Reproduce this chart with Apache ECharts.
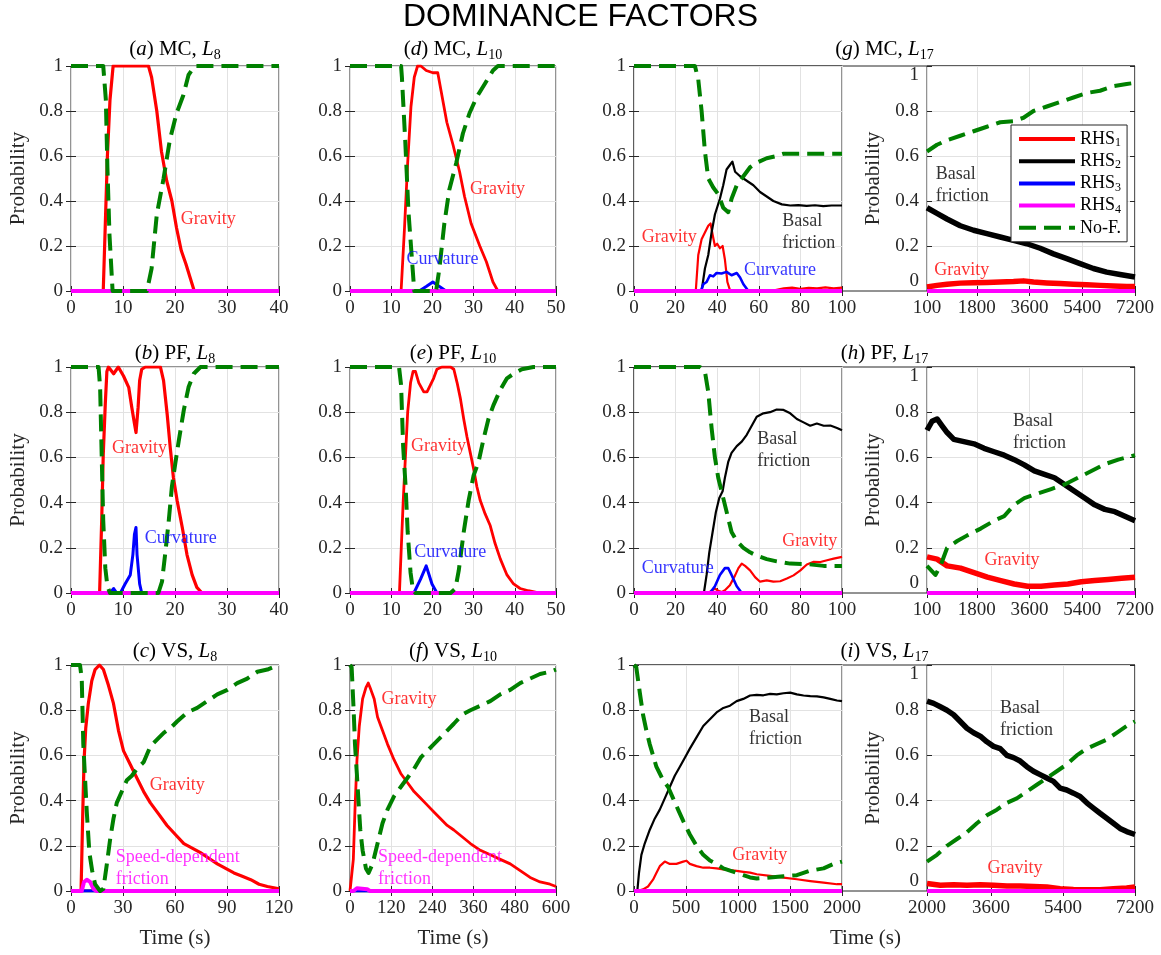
<!DOCTYPE html>
<html>
<head>
<meta charset="utf-8">
<script src="https://cdn.jsdelivr.net/npm/echarts@6/dist/echarts.min.js"></script>
<style>
  html, body { margin: 0; padding: 0; background: #fff; }
  #chart { width: 1161px; height: 955px; }
</style>
</head>
<body>
<div id="chart"></div>
<script>
// ---------------- data ----------------
const seriesNames = ['RHS1', 'RHS2', 'RHS3', 'RHS4', 'No-F.'];

// (a) MC, L8
const a_gravity = [[0,0],[6.2,0],[6.6,0.3],[7.0,0.6],[7.5,0.85],[8.1,1],[14.9,1],[15.5,0.95],[16.5,0.8],[17.4,0.62],[18.4,0.49],[19.4,0.4],[20.3,0.28],[21.2,0.18],[22.1,0.12],[22.9,0.06],[23.7,0],[40,0]];
const a_nof = [[0,1],[6.2,1],[6.7,0.85],[7.0,0.55],[7.4,0.25],[8.0,0],[14.6,0],[15.5,0.1],[16.5,0.34],[17.8,0.5],[19.0,0.67],[20.3,0.79],[21.6,0.87],[22.6,0.96],[23.8,1],[40,1]];
const a_zero = [[0,0],[40,0]];

// (d) MC, L10
const d_gravity = [[0,0],[12.4,0],[13.2,0.27],[14.0,0.57],[14.8,0.82],[15.6,0.95],[16.4,1],[17.2,1],[18.5,0.98],[20.1,0.97],[21.3,0.97],[22.1,0.89],[23.5,0.75],[25.0,0.65],[26.6,0.53],[27.8,0.42],[29.4,0.3],[31.5,0.2],[33.1,0.13],[34.7,0.04],[35.9,0],[50,0]];
const d_curv = [[0,0],[16.8,0],[18.5,0.02],[20.1,0.04],[21.7,0.02],[23.3,0],[50,0]];
const d_nof = [[0,1],[12.4,1],[12.6,0.95],[13.4,0.67],[14.2,0.35],[15.0,0.15],[15.6,0],[20.9,0],[21.7,0.1],[22.9,0.3],[24.1,0.45],[25.8,0.57],[27.4,0.7],[29.0,0.79],[30.7,0.86],[32.7,0.92],[34.7,0.98],[35.9,1],[50,1]];
const d_zero = [[0,0],[50,0]];

// (g) MC, L17, 0-100 s
const gL_gravity = [[0,0],[29.7,0],[30.9,0.16],[32.5,0.23],[34.1,0.26],[35.7,0.29],[36.8,0.3],[37.8,0.25],[38.9,0.2],[40.0,0.21],[41.3,0.19],[42.6,0.2],[43.7,0.14],[44.9,0.04],[46.1,0.005],[50,0],[60,0.003],[68,0.004],[72,0.012],[76,0.015],[80,0.01],[84,0.014],[88,0.012],[92,0.016],[96,0.012],[100,0.015]];
const gL_basal = [[0,0],[32.5,0],[34.1,0.1],[35.7,0.16],[37.3,0.26],[38.9,0.34],[41.3,0.41],[42.9,0.47],[44.5,0.54],[46.1,0.56],[47.3,0.575],[48.6,0.53],[51.0,0.51],[54.2,0.49],[57.4,0.47],[60.6,0.44],[63.8,0.42],[67.0,0.4],[71.1,0.385],[75.1,0.38],[79,0.382],[83,0.378],[87,0.381],[91,0.377],[95,0.38],[100,0.38]];
const gL_curv = [[0,0],[32.2,0],[33.3,0.03],[34.9,0.04],[36.5,0.07],[38.1,0.065],[39.7,0.08],[42.1,0.078],[44.5,0.085],[46.9,0.07],[49.4,0.08],[51.0,0.06],[52.6,0.03],[55.0,0],[100,0]];
const gL_nof = [[0,1],[29.3,1],[30.9,0.94],[32.5,0.8],[34.1,0.62],[35.7,0.5],[38.1,0.46],[40.5,0.43],[42.9,0.37],[45.3,0.35],[46.9,0.41],[49.4,0.47],[52.6,0.51],[55.8,0.55],[59.0,0.57],[63.8,0.59],[68.6,0.6],[71.9,0.61],[100,0.61]];
const gL_zero = [[0,0],[100,0]];

// (g) MC, L17, 100-7200 s
const gR_gravity = [[100,0.018],[441,0.025],[782,0.03],[1236,0.035],[1690,0.037],[2145,0.038],[2599,0.04],[3054,0.042],[3394,0.045],[3735,0.04],[4190,0.036],[4644,0.033],[5098,0.03],[5553,0.028],[6007,0.025],[6462,0.022],[6916,0.02],[7200,0.02]];
const gR_basal = [[100,0.37],[441,0.345],[782,0.32],[1236,0.29],[1690,0.27],[2145,0.255],[2599,0.24],[3054,0.225],[3508,0.21],[3962,0.19],[4417,0.165],[4871,0.144],[5326,0.122],[5780,0.1],[6234,0.084],[6689,0.073],[7200,0.062]];
const gR_nof = [[100,0.62],[441,0.65],[782,0.67],[1236,0.69],[1690,0.71],[2145,0.73],[2599,0.75],[3054,0.755],[3394,0.77],[3735,0.8],[4190,0.82],[4644,0.84],[5098,0.86],[5553,0.88],[6007,0.89],[6462,0.91],[6916,0.92],[7200,0.925]];
const gR_zero = [[100,0],[7200,0]];

// (b) PF, L8
const b_gravity = [[0,0],[5.5,0],[5.9,0.32],[6.2,0.61],[6.6,0.84],[6.9,0.98],[7.2,1],[8.2,0.97],[9.1,1],[10.1,0.96],[11.1,0.91],[11.7,0.82],[12.2,0.75],[12.5,0.71],[12.9,0.82],[13.2,0.94],[13.6,0.99],[14.3,1],[17.2,1],[17.8,0.94],[18.5,0.79],[19.1,0.64],[19.7,0.51],[20.4,0.41],[21.4,0.29],[22.3,0.17],[23.3,0.08],[24.2,0.025],[25.2,0],[40,0]];
const b_curv = [[0,0],[7.5,0],[8.2,0.02],[8.8,0],[9.5,0],[10.4,0.04],[11.4,0.08],[11.9,0.17],[12.2,0.26],[12.5,0.29],[12.7,0.17],[13.2,0.04],[13.6,0],[40,0]];
const b_nof = [[0,1],[5.3,1],[5.6,0.91],[5.9,0.61],[6.2,0.32],[6.6,0.11],[7.0,0.03],[7.5,0],[16.8,0],[17.5,0.05],[18.1,0.17],[18.8,0.32],[19.4,0.47],[20.1,0.58],[20.7,0.67],[21.7,0.81],[22.6,0.91],[23.6,0.97],[24.9,1],[40,1]];
const b_zero = [[0,0],[40,0]];

// (e) PF, L10
const e_gravity = [[0,0],[12.0,0],[12.4,0.18],[12.9,0.4],[13.5,0.62],[14.0,0.8],[14.7,0.93],[15.3,0.98],[15.9,0.98],[16.7,0.93],[17.9,0.89],[18.7,0.89],[19.5,0.92],[20.3,0.95],[21.1,0.99],[22.3,1],[24.4,1],[25.2,0.99],[26.0,0.93],[26.8,0.86],[27.6,0.77],[28.4,0.69],[29.2,0.62],[30.0,0.55],[30.8,0.47],[31.6,0.41],[32.8,0.35],[34.0,0.3],[35.2,0.22],[36.5,0.15],[38.1,0.08],[39.7,0.04],[41.3,0.02],[43.3,0.01],[46.1,0],[50,0]];
const e_curv = [[0,0],[15.5,0],[17.1,0.06],[18.5,0.12],[19.9,0.04],[21.1,0],[50,0]];
const e_nof = [[0,1],[11.9,1],[12.4,0.92],[12.9,0.65],[13.5,0.47],[14.0,0.27],[14.7,0.09],[15.3,0.01],[15.9,0],[24.4,0],[25.6,0.02],[26.4,0.1],[27.6,0.27],[28.8,0.41],[30.0,0.52],[31.2,0.58],[32.4,0.68],[33.6,0.77],[34.8,0.83],[36.5,0.9],[38.1,0.95],[39.7,0.97],[41.7,0.99],[44.5,1],[50,1]];
const e_zero = [[0,0],[50,0]];

// (h) PF, L17, 0-100 s
const hL_gravity = [[0,0],[35.7,0],[37.3,0.01],[38.9,0.02],[40.5,0.01],[42.1,0.004],[43.7,0.012],[46.1,0.034],[48.6,0.078],[50.2,0.11],[51.8,0.13],[53.4,0.12],[55.8,0.1],[58.2,0.07],[60.6,0.05],[63.8,0.056],[67.0,0.05],[70.3,0.052],[73.5,0.064],[76.7,0.078],[80.0,0.1],[83.1,0.126],[86.4,0.138],[89.6,0.137],[92.8,0.145],[96.0,0.152],[100,0.16]];
const hL_basal = [[0,0],[33.6,0],[34.9,0.08],[36.2,0.18],[37.8,0.27],[39.4,0.36],[41.0,0.42],[42.6,0.45],[43.7,0.51],[45.3,0.58],[46.9,0.62],[49.4,0.65],[51.8,0.67],[54.2,0.7],[56.6,0.74],[59.0,0.78],[62.2,0.795],[65.4,0.8],[68.6,0.812],[71.9,0.81],[75.1,0.795],[78.3,0.77],[81.5,0.755],[84.7,0.74],[87.9,0.75],[91.2,0.74],[94.4,0.741],[97.6,0.73],[100,0.72]];
const hL_curv = [[0,0],[36.5,0],[38.9,0.03],[41.3,0.08],[43.7,0.11],[45.3,0.11],[46.9,0.08],[49.4,0.03],[51.8,0],[100,0]];
const hL_nof = [[0,1],[31.7,1],[34.1,0.98],[35.7,0.89],[37.3,0.73],[38.9,0.6],[40.5,0.51],[42.1,0.45],[44.5,0.36],[46.9,0.27],[49.4,0.23],[52.6,0.2],[55.8,0.18],[59.0,0.165],[63.8,0.15],[68.6,0.14],[75.1,0.13],[83.1,0.128],[91.2,0.12],[100,0.12]];
const hL_zero = [[0,0],[100,0]];

// (h) PF, L17, 100-7200 s
const hR_gravity = [[100,0.16],[444,0.15],[787,0.12],[1245,0.11],[1703,0.09],[2161,0.07],[2619,0.055],[3077,0.04],[3535,0.03],[3993,0.03],[4451,0.035],[4909,0.04],[5367,0.05],[5825,0.055],[6283,0.06],[6741,0.065],[7200,0.07]];
const hR_basal = [[100,0.72],[272,0.76],[444,0.77],[615,0.74],[787,0.71],[1016,0.68],[1360,0.67],[1703,0.66],[2047,0.64],[2390,0.625],[2734,0.61],[3077,0.59],[3421,0.567],[3764,0.54],[4108,0.525],[4451,0.51],[4795,0.48],[5138,0.45],[5482,0.42],[5825,0.39],[6169,0.37],[6512,0.36],[6856,0.34],[7200,0.32]];
const hR_nof = [[100,0.12],[387,0.08],[559,0.12],[788,0.2],[1131,0.23],[1475,0.255],[1933,0.285],[2392,0.32],[2735,0.34],[3079,0.39],[3422,0.42],[3880,0.44],[4338,0.46],[4796,0.48],[5254,0.51],[5712,0.54],[6170,0.57],[6628,0.59],[7200,0.61]];
const hR_zero = [[100,0],[7200,0]];

// (c) VS, L8
const c_gravity = [[0,0],[5.8,0],[6.8,0.35],[7.5,0.57],[8.5,0.72],[10.0,0.83],[12.0,0.93],[13.9,0.98],[16.4,1],[18.7,0.98],[21.6,0.91],[24.5,0.83],[27.4,0.71],[30.3,0.62],[34.2,0.56],[38.0,0.5],[41.9,0.44],[45.8,0.39],[50.6,0.34],[55.4,0.29],[60.2,0.25],[65.1,0.21],[69.9,0.19],[74.7,0.17],[79.5,0.145],[84.4,0.12],[89.2,0.1],[94.0,0.08],[98.8,0.065],[103.7,0.05],[108.5,0.03],[113.3,0.02],[120,0.01]];
const c_speed = [[0,0],[6.2,0],[7.5,0.04],[9.1,0.05],[11.0,0.04],[12.9,0.01],[14.8,0],[120,0]];
const c_nof = [[0,1],[5.2,1],[6.2,0.94],[7.1,0.65],[8.1,0.5],[9.1,0.35],[10.6,0.17],[12.2,0.09],[13.9,0.03],[16.8,0],[18.7,0.01],[20.7,0.12],[22.6,0.23],[24.5,0.32],[26.4,0.39],[29.3,0.44],[32.2,0.49],[35.1,0.51],[38.0,0.54],[41.9,0.57],[45.8,0.64],[49.6,0.67],[53.5,0.7],[57.3,0.72],[61.2,0.75],[67.0,0.79],[72.8,0.81],[78.6,0.84],[84.4,0.87],[90.2,0.89],[95.9,0.92],[101.7,0.94],[107.5,0.97],[113.3,0.98],[120,1]];
const c_zero = [[0,0],[120,0]];

// (f) VS, L10
const f_gravity = [[0,0],[4.8,0],[9.7,0.14],[14.5,0.36],[20.3,0.58],[27.1,0.73],[36.7,0.85],[46.4,0.9],[53.1,0.92],[60.9,0.89],[70.5,0.85],[80.2,0.77],[94.7,0.71],[109.2,0.65],[128.5,0.58],[147.8,0.52],[167.1,0.48],[186.5,0.44],[205.8,0.41],[225.1,0.38],[244.4,0.35],[263.8,0.32],[283.1,0.29],[302.4,0.27],[326.6,0.24],[350.7,0.21],[379.7,0.18],[408.7,0.16],[437.7,0.14],[466.7,0.12],[495.7,0.09],[524.6,0.06],[553.6,0.04],[582.6,0.03],[600,0.02]];
const f_speed = [[0,0],[10,0],[20,0.012],[35,0.01],[50,0.008],[58,0],[600,0]];
const f_nof = [[0,1],[4.8,0.99],[10.6,0.8],[14.5,0.65],[20.3,0.51],[25.1,0.39],[30,0.27],[36.7,0.18],[46.4,0.1],[54.1,0.08],[65.7,0.12],[80.2,0.21],[94.7,0.3],[109.2,0.36],[128.5,0.42],[147.8,0.46],[167.1,0.5],[186.5,0.54],[205.8,0.59],[225.1,0.62],[244.4,0.65],[263.8,0.68],[283.1,0.71],[302.4,0.74],[326.6,0.78],[350.7,0.8],[379.7,0.82],[408.7,0.84],[437.7,0.87],[466.7,0.89],[495.7,0.92],[524.6,0.94],[553.6,0.96],[582.6,0.97],[600,0.98]];
const f_zero = [[0,0],[600,0]];

// (i) VS, L17, 0-2000 s
const iL_gravity = [[0,0],[32,0],[87,0.007],[135,0.02],[183,0.05],[215,0.08],[248,0.11],[296,0.13],[344,0.12],[408,0.12],[473,0.13],[505,0.134],[537,0.12],[601,0.11],[666,0.103],[730,0.103],[794,0.1],[859,0.096],[923,0.093],[987,0.089],[1051,0.085],[1116,0.081],[1180,0.074],[1309,0.067],[1437,0.059],[1566,0.052],[1695,0.044],[1823,0.037],[1952,0.03],[2000,0.03]];
const iL_basal = [[0,0],[32,0],[48,0.08],[71,0.16],[103,0.21],[151,0.27],[199,0.32],[248,0.36],[296,0.41],[344,0.46],[392,0.51],[441,0.55],[489,0.59],[537,0.63],[601,0.68],[666,0.73],[730,0.76],[794,0.79],[859,0.81],[923,0.82],[987,0.84],[1051,0.85],[1116,0.865],[1180,0.868],[1244,0.866],[1309,0.872],[1373,0.87],[1437,0.875],[1502,0.878],[1566,0.87],[1630,0.865],[1695,0.862],[1759,0.861],[1823,0.857],[1887,0.85],[1952,0.843],[2000,0.84]];
const iL_nof = [[0,1],[22,0.99],[55,0.88],[87,0.78],[119,0.71],[151,0.65],[183,0.6],[215,0.55],[248,0.52],[280,0.49],[328,0.46],[376,0.41],[424,0.36],[473,0.31],[537,0.25],[601,0.2],[666,0.16],[730,0.135],[794,0.12],[859,0.1],[923,0.09],[987,0.08],[1051,0.07],[1116,0.06],[1180,0.055],[1309,0.06],[1437,0.065],[1566,0.07],[1695,0.09],[1823,0.1],[1920,0.12],[2000,0.13]];
const iL_zero = [[0,0],[2000,0]];

// (i) VS, L17, 2000-7200 s
const iR_gravity = [[2000,0.033],[2333,0.025],[2666,0.028],[2998,0.025],[3331,0.028],[3664,0.025],[3997,0.022],[4330,0.022],[4662,0.02],[4995,0.018],[5328,0.01],[5661,0.007],[5994,0.006],[6326,0.006],[6659,0.01],[6992,0.013],[7200,0.018]];
const iR_basal = [[2000,0.84],[2166,0.83],[2333,0.815],[2499,0.8],[2666,0.78],[2832,0.75],[2998,0.72],[3165,0.7],[3331,0.685],[3498,0.66],[3664,0.64],[3830,0.63],[3997,0.6],[4163,0.59],[4330,0.575],[4496,0.55],[4662,0.53],[4829,0.515],[4995,0.5],[5162,0.485],[5328,0.455],[5494,0.447],[5661,0.433],[5827,0.418],[5994,0.39],[6160,0.367],[6326,0.344],[6493,0.322],[6659,0.3],[6826,0.277],[6992,0.263],[7200,0.25]];
const iR_nof = [[2000,0.13],[2250,0.16],[2499,0.2],[2749,0.23],[2998,0.26],[3248,0.3],[3498,0.335],[3747,0.36],[3997,0.39],[4246,0.41],[4496,0.44],[4746,0.47],[4995,0.5],[5245,0.53],[5494,0.56],[5744,0.6],[5994,0.63],[6243,0.65],[6493,0.67],[6742,0.7],[6992,0.73],[7200,0.75]];
const iR_zero = [[2000,0],[7200,0]];

// tick values for the long-time axes
const ticksLongMCPF = [100, 1800, 3600, 5400, 7200];
const ticksLongVS = [2000, 3600, 5400, 7200];

// in-plot annotations: [x, y, text, series]
const notes_a = [[21, 0.32, 'Gravity', 'RHS1']];
const notes_d = [[29, 0.45, 'Gravity', 'RHS1'], [13.6, 0.14, 'Curvature', 'RHS3']];
const notes_gL = [[3.5, 0.24, 'Gravity', 'RHS1'], [71, 0.26, 'Basal\nfriction', 'RHS2'], [52.6, 0.09, 'Curvature', 'RHS3']];
const notes_gR = [[384, 0.47, 'Basal\nfriction', 'RHS2'], [327, 0.09, 'Gravity', 'RHS1']];
const notes_b = [[7.8, 0.64, 'Gravity', 'RHS1'], [14.1, 0.24, 'Curvature', 'RHS3']];
const notes_e = [[14.7, 0.65, 'Gravity', 'RHS1'], [15.5, 0.18, 'Curvature', 'RHS3']];
const notes_hL = [[59, 0.63, 'Basal\nfriction', 'RHS2'], [71, 0.23, 'Gravity', 'RHS1'], [3.5, 0.11, 'Curvature', 'RHS3']];
const notes_hR = [[3020, 0.71, 'Basal\nfriction', 'RHS2'], [2047, 0.144, 'Gravity', 'RHS1']];
const notes_c = [[45.2, 0.47, 'Gravity', 'RHS1'], [25.5, 0.10, 'Speed-dependent\nfriction', 'RHS4']];
const notes_f = [[90, 0.85, 'Gravity', 'RHS1'], [80, 0.10, 'Speed-dependent\nfriction', 'RHS4']];
const notes_iL = [[1100, 0.72, 'Basal\nfriction', 'RHS2'], [940, 0.16, 'Gravity', 'RHS1']];
const notes_iR = [[3814, 0.76, 'Basal\nfriction', 'RHS2'], [3498, 0.10, 'Gravity', 'RHS1']];

// ---------------- styling / layout ----------------
const FONT = 'Liberation Serif';
const AXIS_COLOR = '#262626';
const GRID_COLOR = '#e2e2e2';
const COLORS = { RHS1: '#ff0000', RHS2: '#000000', RHS3: '#0000ff', RHS4: '#ff00ff', 'No-F.': '#008000' };
const DASH = [17, 8];

const cols = [
  { left: 71, width: 208 },
  { left: 350, width: 206 },
  { left: 634, width: 208 },
  { left: 927, width: 208 }
];
const rows = [
  { top: 66, height: 225, titleTop: 36 },
  { top: 367, height: 226, titleTop: 340 },
  { top: 665, height: 226, titleTop: 638 }
];
// line widths per column: red, black, blue, magenta, green
const widths = [
  [3.2, 3, 3, 4, 4],
  [2.8, 2.8, 3, 4, 4],
  [2.2, 2.2, 2.6, 4, 4],
  [5.5, 5.5, 3, 4, 4]
];

const panels = [
  { row: 0, col: 0, x: { min: 0, max: 40, interval: 10 }, yName: true, lines: [a_gravity, a_zero, a_zero, a_zero, a_nof], notes: notes_a },
  { row: 0, col: 1, x: { min: 0, max: 50, interval: 10 }, lines: [d_gravity, d_zero, d_curv, d_zero, d_nof], notes: notes_d },
  { row: 0, col: 2, x: { min: 0, max: 100, interval: 20 }, lines: [gL_gravity, gL_basal, gL_curv, gL_zero, gL_nof], notes: notes_gL },
  { row: 0, col: 3, x: { min: 100, max: 7200, ticks: ticksLongMCPF }, yName: true, right: true, lines: [gR_gravity, gR_basal, gR_zero, gR_zero, gR_nof], notes: notes_gR },
  { row: 1, col: 0, x: { min: 0, max: 40, interval: 10 }, yName: true, lines: [b_gravity, b_zero, b_curv, b_zero, b_nof], notes: notes_b },
  { row: 1, col: 1, x: { min: 0, max: 50, interval: 10 }, lines: [e_gravity, e_zero, e_curv, e_zero, e_nof], notes: notes_e },
  { row: 1, col: 2, x: { min: 0, max: 100, interval: 20 }, lines: [hL_gravity, hL_basal, hL_curv, hL_zero, hL_nof], notes: notes_hL },
  { row: 1, col: 3, x: { min: 100, max: 7200, ticks: ticksLongMCPF }, yName: true, right: true, lines: [hR_gravity, hR_basal, hR_zero, hR_zero, hR_nof], notes: notes_hR },
  { row: 2, col: 0, x: { min: 0, max: 120, interval: 30 }, yName: true, xName: true, lines: [c_gravity, c_zero, c_zero, c_speed, c_nof], notes: notes_c },
  { row: 2, col: 1, x: { min: 0, max: 600, interval: 120 }, xName: true, lines: [f_gravity, f_zero, f_zero, f_speed, f_nof], notes: notes_f },
  { row: 2, col: 2, x: { min: 0, max: 2000, interval: 500 }, lines: [iL_gravity, iL_basal, iL_zero, iL_zero, iL_nof], notes: notes_iL },
  { row: 2, col: 3, x: { min: 2000, max: 7200, ticks: ticksLongVS }, yName: true, right: true, lines: [iR_gravity, iR_basal, iR_zero, iR_zero, iR_nof], notes: notes_iR }
];

const titles = [
  { row: 0, cols: [0], text: '({it|a}) MC, {it|L}{sub|8}' },
  { row: 0, cols: [1], text: '({it|d}) MC, {it|L}{sub|10}' },
  { row: 0, cols: [2, 3], text: '({it|g}) MC, {it|L}{sub|17}' },
  { row: 1, cols: [0], text: '({it|b}) PF, {it|L}{sub|8}' },
  { row: 1, cols: [1], text: '({it|e}) PF, {it|L}{sub|10}' },
  { row: 1, cols: [2, 3], text: '({it|h}) PF, {it|L}{sub|17}' },
  { row: 2, cols: [0], text: '({it|c}) VS, {it|L}{sub|8}' },
  { row: 2, cols: [1], text: '({it|f}) VS, {it|L}{sub|10}' },
  { row: 2, cols: [2, 3], text: '({it|i}) VS, {it|L}{sub|17}' }
];

const labelText = { fontFamily: FONT, fontSize: 19, color: AXIS_COLOR };
const nameText = { fontFamily: FONT, fontSize: 21, color: AXIS_COLOR };
const plainNumber = v => String(v);

const option = {
  animation: false,
  backgroundColor: '#ffffff',
  title: [{
    text: 'DOMINANCE FACTORS',
    left: 'center', top: 1, padding: 0,
    textStyle: { fontFamily: 'Liberation Sans', fontSize: 32, fontWeight: 'normal', color: '#000' }
  }],
  grid: [], xAxis: [], yAxis: [], series: [],
  legend: {
    orient: 'vertical', left: 1011, top: 125,
    data: seriesNames,
    itemWidth: 56, itemHeight: 18, itemGap: 2.2,
    padding: [4, 6, 4, 6],
    backgroundColor: '#ffffff', borderColor: AXIS_COLOR, borderWidth: 1, borderRadius: 0,
    selectedMode: false,
    itemStyle: { opacity: 0 },
    lineStyle: { width: 4 },
    formatter: n => n.indexOf('RHS') === 0 ? 'RHS{sub|' + n.slice(3) + '}' : n,
    textStyle: {
      fontFamily: FONT, fontSize: 18, color: '#000', lineHeight: 20,
      rich: { sub: { fontFamily: FONT, fontSize: 12, lineHeight: 12, verticalAlign: 'bottom', color: '#000' } }
    },
    z: 20
  }
};

// ---------------- titles ----------------
titles.forEach(t => {
  const c0 = cols[t.cols[0]], c1 = cols[t.cols[t.cols.length - 1]];
  const cx = (c0.left + c1.left + c1.width) / 2;
  option.title.push({
    text: t.text, left: cx, top: rows[t.row].titleTop, textAlign: 'center', padding: 0,
    textStyle: {
      fontFamily: FONT, fontSize: 21, fontWeight: 'normal', color: '#000', lineHeight: 26,
      rich: {
        it: { fontFamily: FONT, fontSize: 21, fontStyle: 'italic', lineHeight: 26, color: '#000' },
        sub: { fontFamily: FONT, fontSize: 14, lineHeight: 14, verticalAlign: 'bottom', color: '#000' }
      }
    }
  });
});

// ---------------- frames joining the split panels ----------------
rows.forEach((r, ri) => {
  const gi = option.grid.length;
  option.grid.push({
    left: cols[2].left, width: cols[3].left + cols[3].width - cols[2].left,
    top: r.top, height: r.height, show: true, borderColor: AXIS_COLOR, borderWidth: 1,
    backgroundColor: 'transparent', containLabel: false, outerBoundsMode: 'none'
  });
  option.xAxis.push({
    type: 'value', gridIndex: gi, min: 0, max: 1, show: true,
    axisLine: { show: false }, axisTick: { show: false }, axisLabel: { show: false }, splitLine: { show: false },
    name: ri === 2 ? 'Time (s)' : '', nameLocation: 'middle', nameGap: 37,
    nameTextStyle: Object.assign({ padding: [0, 38, 0, 0] }, nameText)
  });
  option.yAxis.push({ type: 'value', gridIndex: gi, min: 0, max: 1, show: false });
});

// ---------------- panels ----------------
panels.forEach(p => {
  const gi = option.grid.length;
  const c = cols[p.col], r = rows[p.row];
  option.grid.push({
    left: c.left, width: c.width, top: r.top, height: r.height,
    show: true, borderColor: AXIS_COLOR, borderWidth: 1, backgroundColor: 'transparent',
    containLabel: false, outerBoundsMode: 'none'
  });

  const tickBase = { show: true, inside: true, length: 5, lineStyle: { color: AXIS_COLOR, width: 1 } };
  const xCommon = { type: 'value', gridIndex: gi, min: p.x.min, max: p.x.max, axisLine: { show: false } };
  if (p.x.interval) xCommon.interval = p.x.interval;
  const xTick = Object.assign({}, tickBase, p.x.ticks ? { customValues: p.x.ticks } : {});

  const xi = option.xAxis.length;
  option.xAxis.push(Object.assign({}, xCommon, {
    position: 'bottom',
    axisTick: xTick,
    axisLabel: Object.assign({ show: true, margin: 8, hideOverlap: false, formatter: plainNumber }, labelText,
      p.x.ticks ? { customValues: p.x.ticks } : {}),
    splitLine: { show: true, lineStyle: { color: GRID_COLOR, width: 1 } },
    name: p.xName ? 'Time (s)' : '', nameLocation: 'middle', nameGap: 37, nameTextStyle: nameText
  }));
  option.xAxis.push(Object.assign({}, xCommon, {
    position: 'top', axisTick: xTick, axisLabel: { show: false }, splitLine: { show: false }
  }));

  const yCommon = { type: 'value', gridIndex: gi, min: 0, max: 1, interval: 0.2, axisLine: { show: false } };
  const yi = option.yAxis.length;
  const yLabel = Object.assign({ show: true, margin: 8 }, labelText);
  if (p.right) { yLabel.verticalAlignMinLabel = 'bottom'; yLabel.verticalAlignMaxLabel = 'top'; }
  option.yAxis.push(Object.assign({}, yCommon, {
    position: 'left', axisTick: tickBase, axisLabel: yLabel,
    splitLine: { show: true, lineStyle: { color: GRID_COLOR, width: 1 } },
    name: p.yName ? 'Probability' : '', nameLocation: 'middle', nameGap: p.right ? 43 : 42, nameTextStyle: nameText
  }));
  option.yAxis.push(Object.assign({}, yCommon, {
    position: 'right', axisTick: tickBase, axisLabel: { show: false }, splitLine: { show: false }
  }));

  seriesNames.forEach((name, k) => {
    const dashed = name === 'No-F.';
    option.series.push({
      type: 'line', name, data: p.lines[k], xAxisIndex: xi, yAxisIndex: yi,
      symbol: 'none', showSymbol: false, silent: true, clip: true,
      lineStyle: { color: COLORS[name], width: widths[p.col][k], type: dashed ? DASH : 'solid', cap: 'butt', join: 'round' },
      itemStyle: { color: COLORS[name] },
      z: 3 + k
    });
  });

  option.series.push({
    type: 'scatter', name: 'notes', xAxisIndex: xi, yAxisIndex: yi, silent: true,
    symbol: 'circle', symbolSize: 1, itemStyle: { color: 'rgba(0,0,0,0)' }, z: 12,
    data: p.notes.map(n => ({
      value: [n[0], n[1]],
      label: { formatter: n[2], color: COLORS[n[3]] }
    })),
    label: {
      show: true, position: 'right', distance: 0, align: 'left', verticalAlign: 'middle',
      fontFamily: FONT, fontSize: 18, lineHeight: 22
    }
  });
});

const chart = echarts.init(document.getElementById('chart'), null, { renderer: 'canvas' });
chart.setOption(option);
</script>
</body>
</html>
